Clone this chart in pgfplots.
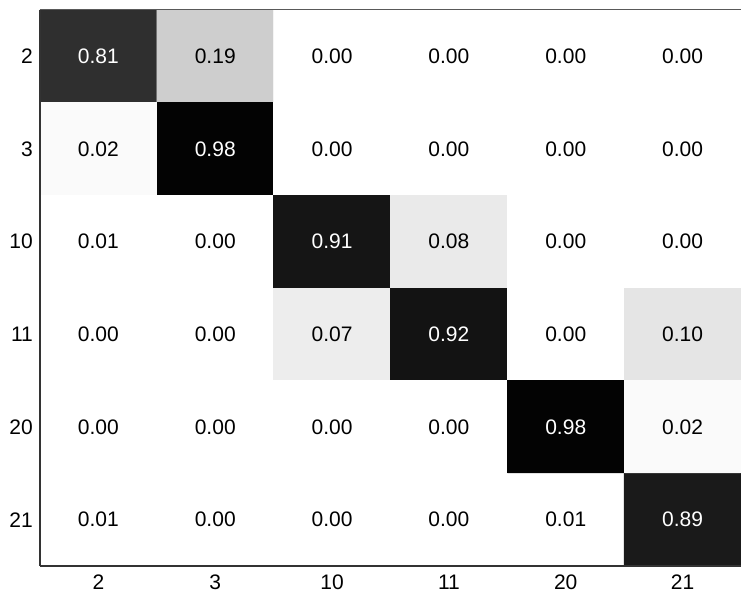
\documentclass[border=0pt]{standalone}
\usepackage{fontspec}
\setmainfont{Liberation Sans}
\usepackage{pgfplots}
\pgfplotsset{compat=1.18}
\begin{document}
\fontsize{21}{25}\selectfont
\begin{tikzpicture}
\begin{axis}[
  at={(0,0)}, anchor=south west,
  width=701pt, height=556pt, scale only axis,
  xmin=-0.5, xmax=5.5, ymin=-0.5, ymax=5.5,
  y dir=reverse,
  xtick={0,1,2,3,4,5}, ytick={0,1,2,3,4,5},
  xticklabels={2,3,10,11,20,21},
  yticklabels={2,3,10,11,20,21},
  major tick length=0pt,
  axis line style={draw=none},
  colormap={bw}{gray(0cm)=(1); gray(1cm)=(0)},
  point meta min=0, point meta max=1,
  tick label style={font=\fontsize{21}{25}\selectfont},
  xticklabel style={yshift=-2pt},
  /pgf/number format/assume math mode=true,
]
\addplot[matrix plot*, mesh/cols=6, point meta=explicit, draw=none] table[meta=c] {
x y c
0 0 0.81
1 0 0.19
2 0 0.00
3 0 0.00
4 0 0.00
5 0 0.00
0 1 0.02
1 1 0.98
2 1 0.00
3 1 0.00
4 1 0.00
5 1 0.00
0 2 0.00
1 2 0.00
2 2 0.91
3 2 0.08
4 2 0.00
5 2 0.00
0 3 0.00
1 3 0.00
2 3 0.07
3 3 0.92
4 3 0.00
5 3 0.10
0 4 0.00
1 4 0.00
2 4 0.00
3 4 0.00
4 4 0.98
5 4 0.02
0 5 0.00
1 5 0.00
2 5 0.00
3 5 0.00
4 5 0.00
5 5 0.89
};
\addplot[only marks, mark=none, point meta=explicit symbolic,
  nodes near coords, nodes near coords align={center},
  nodes near coords style={text=black, anchor=center, font=\fontsize{21}{25}\selectfont}]
  table[meta=t] {
x y t
1 0 0.19
2 0 0.00
3 0 0.00
4 0 0.00
5 0 0.00
0 1 0.02
2 1 0.00
3 1 0.00
4 1 0.00
5 1 0.00
0 2 0.01
1 2 0.00
3 2 0.08
4 2 0.00
5 2 0.00
0 3 0.00
1 3 0.00
2 3 0.07
4 3 0.00
5 3 0.10
0 4 0.00
1 4 0.00
2 4 0.00
3 4 0.00
5 4 0.02
0 5 0.01
1 5 0.00
2 5 0.00
3 5 0.00
4 5 0.01
};
\addplot[only marks, mark=none, point meta=explicit symbolic,
  nodes near coords, nodes near coords align={center},
  nodes near coords style={text=white, anchor=center, font=\fontsize{21}{25}\selectfont}]
  table[meta=t] {
x y t
0 0 0.81
1 1 0.98
2 2 0.91
3 3 0.92
4 4 0.98
5 5 0.89
};
\end{axis}
\draw[black!65, line width=1pt] (0,556pt) -- (701pt,556pt);
\draw[black!80, line width=1.5pt] (0,0) -- (0,556pt);
\draw[black!80, line width=1.5pt] (0,0) -- (701pt,0);
\pgfresetboundingbox
\path[use as bounding box] (-40pt,-27pt) rectangle (701pt,566pt);
\end{tikzpicture}
\end{document}
